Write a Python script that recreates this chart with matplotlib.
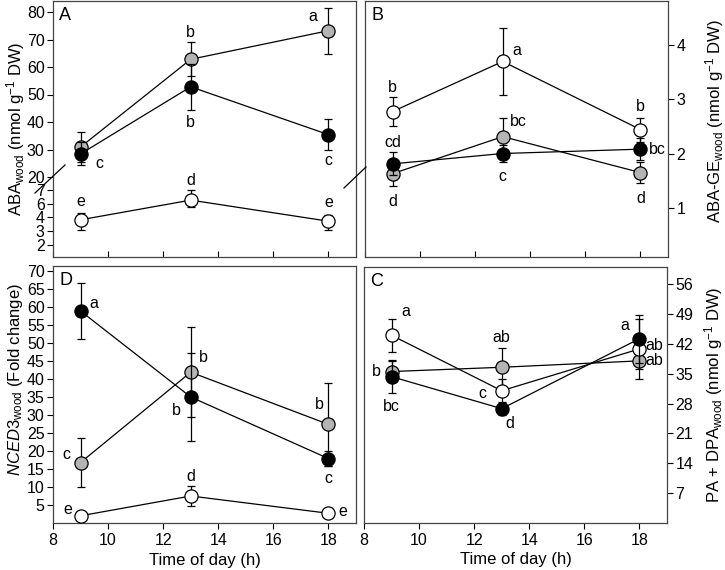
import matplotlib
matplotlib.use('Agg')
import matplotlib.pyplot as plt
import numpy as np
from matplotlib.lines import Line2D

plt.rcParams['font.family'] = ['Liberation Sans', 'DejaVu Sans']
plt.rcParams['mathtext.fontset'] = 'custom'
plt.rcParams['mathtext.rm'] = 'Liberation Sans'
plt.rcParams['mathtext.it'] = 'Liberation Sans:italic'
plt.rcParams['font.size'] = 11.5

hours = [9, 13, 18]

# A: ABA wood
aba_white = [3.8, 6.25, 3.7]
aba_white_err = [0.75, 0.75, 0.65]
aba_gray = [30.9, 62.8, 73.2]
aba_gray_err = [5.3, 6.2, 8.3]
aba_black = [28.4, 52.8, 35.4]
aba_black_err = [4.2, 8.4, 5.6]
aba_white_let = ['e', 'd', 'e']
aba_gray_let = ['', 'b', 'a']
aba_black_let = ['c', 'b', 'c']

# B: ABA-GE wood
ge_white = [2.77, 3.69, 2.44]
ge_white_err = [0.26, 0.61, 0.22]
ge_gray = [1.63, 2.31, 1.65]
ge_gray_err = [0.22, 0.35, 0.2]
ge_black = [1.81, 2.0, 2.08]
ge_black_err = [0.21, 0.16, 0.2]
ge_white_let = ['b', 'a', 'b']
ge_gray_let = ['d', 'bc', 'd']
ge_black_let = ['cd', 'c', 'bc']

# D: NCED3 wood
nced_white = [2.0, 7.5, 2.7]
nced_white_err = [0.0, 2.9, 0.0]
nced_gray = [16.8, 41.9, 27.4]
nced_gray_err = [6.7, 12.5, 11.5]
nced_black = [58.9, 35.0, 17.9]
nced_black_err = [7.9, 12.1, 2.0]
nced_white_let = ['e', 'd', 'e']
nced_gray_let = ['c', 'b', 'b']
nced_black_let = ['a', 'b', 'c']

# C: PA + DPA wood
pa_white = [44.0, 31.0, 40.8]
pa_white_err = [3.9, 2.8, 7.0]
pa_gray = [35.5, 36.5, 38.0]
pa_gray_err = [2.5, 4.6, 2.0]
pa_black = [34.3, 26.8, 43.2]
pa_black_err = [3.9, 1.5, 5.6]
pa_white_let = ['a', 'c', 'ab']
pa_gray_let = ['b', 'ab', 'ab']
pa_black_let = ['bc', 'd', 'a']

fig = plt.figure(figsize=(7.25, 5.7), dpi=100)


def px_axes(l, t, r, b):
    return fig.add_axes([l / 725, 1 - b / 570, (r - l) / 725, (b - t) / 570])


axA = px_axes(53, 1, 356, 257)
axB = px_axes(365, 1, 668, 257)
axD = px_axes(53, 266, 356, 523)
axC = px_axes(364, 267, 667, 523)

# broken axis for A: piecewise scale
brk_vals = [1.12, 2, 3, 4, 6, 7, 20, 80, 84]
brk_pos = [0, 12, 26, 40, 53.5, 67, 80, 245, 256]


def fwd(v):
    return np.interp(v, brk_vals, brk_pos)


def inv(u):
    return np.interp(u, brk_pos, brk_vals)


axA.set_yscale('function', functions=(fwd, inv))
axA.set_ylim(1.12, 84)


def series(ax, y, err, face, lets, offs, z):
    ax.errorbar(hours, y, yerr=err, fmt='none', ecolor='black', elinewidth=0.9,
                capsize=2.6, capthick=0.9, zorder=z)
    ax.plot(hours, y, '-o', color='black', lw=0.9, markersize=9.5,
            markerfacecolor=face, markeredgecolor='black', markeredgewidth=0.9, zorder=z + 0.5)
    for x, v, t, o in zip(hours, y, lets, offs):
        if t:
            ax.annotate(t, (x, v), xytext=o, textcoords='offset pixels',
                        ha='center', va='center', fontsize=11.5)


gray = '#b4b4b4'

# Panel A
series(axA, aba_gray, aba_gray_err, gray, aba_gray_let, [(0, 0), (0, 27), (-16, 14)], 2)
series(axA, aba_white, aba_white_err, 'white', aba_white_let, [(0, 18), (0, 20), (0, 19)], 3)
series(axA, aba_black, aba_black_err, 'black', aba_black_let, [(19, -10), (0, -36), (0, -26)], 4)
axA.set_yticks([2, 3, 4, 6, 7, 20, 30, 40, 50, 60, 70, 80])
axA.set_yticklabels(['2', '3', '4', '6', '7', '20', '30', '40', '50', '60', '70', '80'])
axA.set_ylabel('ABA$_{\\mathrm{wood}}$ (nmol g$^{-1}$ DW)', fontsize=12)
axA.yaxis.set_label_coords(-0.125, 0.5)

# Panel B
series(axB, ge_gray, ge_gray_err, gray, ge_gray_let, [(0, -28), (16, 15), (0, -26)], 2)
series(axB, ge_white, ge_white_err, 'white', ge_white_let, [(0, 24), (14, 11), (0, 23)], 3)
series(axB, ge_black, ge_black_err, 'black', ge_black_let, [(0, 21), (0, -23), (17, 0)], 4)
axB.set_ylim(0.1, 4.8)
axB.set_yticks([1, 2, 3, 4])
axB.yaxis.tick_right()
axB.yaxis.set_label_position('right')
axB.set_ylabel('ABA-GE$_{\\mathrm{wood}}$ (nmol g$^{-1}$ DW)', fontsize=12)
axB.yaxis.set_label_coords(1.155, 0.53)

# Panel D
series(axD, nced_gray, nced_gray_err, gray, nced_gray_let, [(-14, 8), (13, 15), (-9, 20)], 2)
series(axD, nced_white, nced_white_err, 'white', nced_white_let, [(-13, 6), (0, 20), (14, 2)], 3)
series(axD, nced_black, nced_black_err, 'black', nced_black_let, [(13, 7), (-14, -13), (0, -20)], 4)
axD.set_ylim(0, 71.4)
axD.set_yticks(np.arange(5, 71, 5))
axD.set_ylabel('$\\mathit{NCED3}_{\\mathrm{wood}}$ (Fold change)', fontsize=12)
axD.yaxis.set_label_coords(-0.125, 0.56)

# Panel C
series(axC, pa_gray, pa_gray_err, gray, pa_gray_let, [(-15, 0), (0, 30), (15, 0)], 2)
series(axC, pa_white, pa_white_err, 'white', pa_white_let, [(14, 24), (-19, -3), (15, 3)], 3)
series(axC, pa_black, pa_black_err, 'black', pa_black_let, [(0, -30), (8, -15), (-15, 13)], 4)
axC.set_ylim(0, 60)
axC.set_yticks(np.arange(7, 57, 7))
axC.yaxis.tick_right()
axC.yaxis.set_label_position('right')
axC.set_ylabel('PA + DPA$_{\\mathrm{wood}}$ (nmol g$^{-1}$ DW)', fontsize=12)
axC.yaxis.set_label_coords(1.155, 0.5)

for ax, name in zip([axA, axB, axD, axC], ['A', 'B', 'D', 'C']):
    ax.set_xlim(8, 19)
    ax.set_xticks([8, 10, 12, 14, 16, 18])
    for s in ax.spines.values():
        s.set_color('#444444')
        s.set_linewidth(0.9)
    ax.tick_params(axis='y', direction='out', length=4, width=0.8, pad=2, labelsize=11.5)
    ax.text(0.02, 0.975, name, transform=ax.transAxes, ha='left', va='top', fontsize=13)
    ax.yaxis.label.set_va('center')

for ax in [axA, axB]:
    ax.tick_params(axis='x', direction='in', length=4, width=0.8, labelbottom=False)
for ax in [axD, axC]:
    ax.tick_params(axis='x', direction='out', length=4, width=0.8, pad=3, labelsize=11.5)
    ax.set_xlabel('Time of day (h)', fontsize=12)
    ax.xaxis.set_label_coords(0.5, -0.115)
    ax.xaxis.label.set_va('top')

# break marks
fig.add_artist(Line2D([35 / 725, 65 / 725], [1 - 193 / 570, 1 - 165 / 570], color='black', lw=0.9))
fig.add_artist(Line2D([344 / 725, 366 / 725], [1 - 188 / 570, 1 - 167 / 570], color='black', lw=0.9))

fig.savefig('out.png', dpi=100)
